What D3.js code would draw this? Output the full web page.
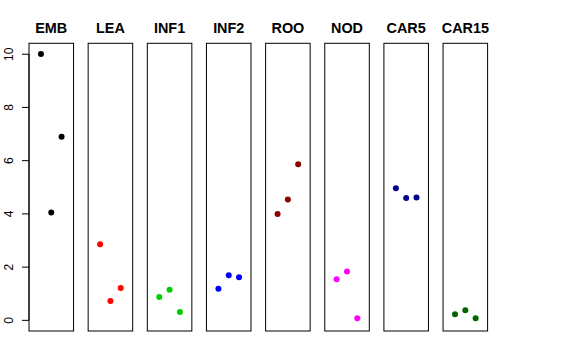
<!DOCTYPE html>
<html><head><meta charset="utf-8">
<script src="https://cdn.jsdelivr.net/npm/d3@7"></script>
<style>body{margin:0;background:#fff}svg{display:block}</style>
</head><body>
<script>
const categories = ["EMB","LEA","INF1","INF2","ROO","NOD","CAR5","CAR15"];
const colors = ["#000000","#FF0000","#00CD00","#0000FF","#8B0000","#FF00FF","#00008B","#006400"];
const rep1 = [10.01, 2.86, 0.88, 1.19, 4.00, 1.54, 4.96, 0.23];
const rep2 = [4.05, 0.73, 1.15, 1.69, 4.54, 1.84, 4.60, 0.38];
const rep3 = [6.90, 1.22, 0.31, 1.62, 5.87, 0.08, 4.62, 0.08];
const yTicks = [0, 2, 4, 6, 8, 10];

const W = 576, H = 360;
const svg = d3.select("body").append("svg").attr("width", W).attr("height", H);

const band = d3.scaleBand().domain(categories).range([29, 487.6]).paddingInner(0.247).paddingOuter(0);
const ymax = d3.max([...rep1, ...rep2, ...rep3]);
const ypad = 0.04 * ymax;
const y = d3.scaleLinear().domain([0 - ypad, ymax + ypad]).range([331, 43.3]);
const xpad = 0.04 * 4;
const reps = [rep1, rep2, rep3];

categories.forEach((c, i) => {
  const x0 = band(c);
  const x = d3.scaleLinear().domain([0 - xpad, 4 + xpad]).range([x0, x0 + band.bandwidth()]);
  const g = svg.append("g");
  g.append("rect").attr("x", x0).attr("y", y.range()[1]).attr("width", band.bandwidth())
    .attr("height", y.range()[0] - y.range()[1]).attr("fill", "none").attr("stroke", "#000").attr("stroke-width", 1);
  g.append("text").attr("x", x0 + band.bandwidth() / 2).attr("y", 33).attr("text-anchor", "middle")
    .attr("font-family", "Liberation Sans, Arial, sans-serif").attr("font-weight", "bold").attr("font-size", 14.4)
    .text(c);
  reps.forEach((r, j) => {
    g.append("circle").attr("cx", x(j + 1)).attr("cy", y(r[i])).attr("r", 3).attr("fill", colors[i]);
  });
});

const axis = d3.axisLeft(y).tickValues(yTicks).tickSize(7).tickPadding(0).tickFormat(d3.format("d"));
const ag = svg.append("g").attr("transform", "translate(29,0)").call(axis);
ag.select(".domain").attr("d", `M0,${y(0)}V${y(10)}`).attr("stroke", "#000");
ag.selectAll(".tick line").attr("stroke", "#000");
ag.selectAll(".tick text").attr("font-family", "Liberation Sans, Arial, sans-serif").attr("font-size", 12)
  .attr("fill", "#000")
  .attr("transform", d => `translate(-20.5,${y(d)}) rotate(-90)`).attr("x", 0).attr("y", 0).attr("dy", "0.35em")
  .attr("text-anchor", "middle");
ag.selectAll(".tick").attr("transform", null);
ag.selectAll(".tick line").attr("y1", d => y(d)).attr("y2", d => y(d));
</script>
</body></html>
